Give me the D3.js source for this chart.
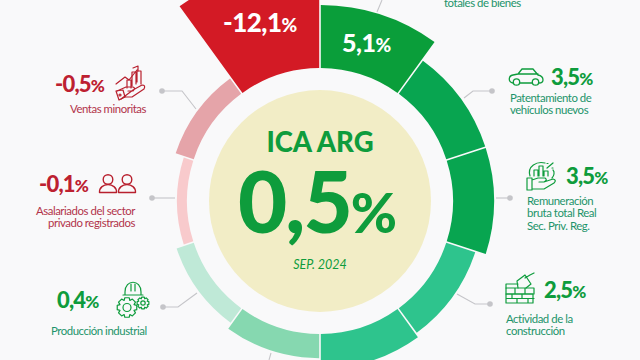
<!DOCTYPE html>
<html lang="en">
<head>
    <meta charset="UTF-8">
    <title>ICA ARG</title>
    <style>
        html, body {margin: 0; padding: 0; background: #f9f9fa; overflow: hidden;}
        svg {display: block; font-family: Lato, sans-serif;}
        .icon * {fill: none; stroke-linecap: round; stroke-linejoin: round;}
    </style>
</head>
<body>
    <div id="chart-container"></div>
    <script src="https://d3js.org/d3.v7.min.js"></script>
    <script>
        // clockwise from 12 o'clock
        const segmentNames = ["Consumo de bienes", "Patentamiento", "Remuneracion", "Construccion", "Seg 5", "Seg 6", "Industria", "Asalariados", "Ventas", "Seg 10"];
        const segmentValues = [5.1, 3.5, 3.5, 2.5, 2.9, 1.4, 0.4, -0.1, -0.5, -12.1];
        const segmentColors = ["#0a9e3a", "#08a550", "#08a550", "#2ec48d", "#2ec48d", "#86d8b0", "#bfe9d7", "#f8cacc", "#e5a4a9", "#d31a25"];
        const headline = {title: "ICA ARG", value: 0.5, date: "SEP. 2024"};

        const WIDTH = 640;
        const HEIGHT = 360;
        const CENTER = {X: 320, Y: 201};
        const INNER_R = 133;
        const DISC_R = 111;
        const GREEN = "#0e9c3c";
        const RED = "#bd2030";
        const TEAL = "#1d946a";
        const MAROON = "#b2344a";
        const LEADER = "#c5c5c9";

        // radius grows with |value| but the original is not linear
        const radius = d3.scaleLinear()
        .domain([0.1, 0.4, 0.5, 2.5, 3.5, 5.1, 12.1])
        .range([143, 151, 152, 163.5, 174, 196, 240]);

        const esAR = d3.formatLocale({decimal: ",", thousands: ".", grouping: [3], currency: ["$", ""], minus: "-"});
        const fmt = esAR.format(".1f");

        const svg = d3.select("#chart-container").append("svg")
        .attr("width", WIDTH)
        .attr("height", HEIGHT);

        svg.append("rect").attr("width", WIDTH).attr("height", HEIGHT).attr("fill", "#f9f9fa");

        // leaders go under the ring
        const leaders = [
            {dot: [162, 91], path: [[162, 91], [182, 91], [196, 109]]},
            {dot: [152, 198], path: [[152, 198], [175, 198]]},
            {dot: [163, 307], path: [[163, 307], [178, 307], [197, 293]]},
            {dot: [492, 91], path: [[492, 91], [473, 91], [464, 98]]},
            {dot: [510, 198], path: [[510, 198], [496, 198]]},
            {dot: [490, 304], path: [[490, 304], [475, 304], [457, 294]]},
            {path: [[377, 12], [382, 0]]},
            {path: [[269, 360], [271, 353]]},
            {path: [[372, 358], [373, 360]]}
        ];
        const line = d3.line();
        const gLeaders = svg.append("g");
        leaders.forEach(d => {
            gLeaders.append("path").attr("d", line(d.path)).attr("fill", "none").attr("stroke", LEADER).attr("stroke-width", 1.1);
            if (d.dot) gLeaders.append("circle").attr("cx", d.dot[0]).attr("cy", d.dot[1]).attr("r", 2.8).attr("fill", LEADER);
        });

        const pie = d3.pie().value(() => 1).sort(null);
        const arc = d3.arc()
        .innerRadius(INNER_R)
        .outerRadius(d => radius(Math.abs(d.data)))
        .padAngle(0.012)
        .padRadius(INNER_R);

        const g = svg.append("g")
        .attr("transform", `translate(${CENTER.X},${CENTER.Y})`);

        g.selectAll("path.segment")
        .data(pie(segmentValues))
        .enter().append("path")
        .attr("class", "segment")
        .attr("d", arc)
        .attr("fill", (d, i) => segmentColors[i]);

        g.append("circle").attr("r", DISC_R).attr("fill", "#f2edc6");

        // number followed by a smaller percent sign
        function pct(parent, value, x, y, size, color, pctSize, spacing) {
            const t = parent.append("text")
            .attr("x", x).attr("y", y)
            .attr("fill", color)
            .attr("font-weight", 900)
            .attr("font-size", size)
            .attr("letter-spacing", spacing || 0);
            t.append("tspan").text(fmt(value));
            t.append("tspan").attr("font-size", pctSize).text("%");
            return t;
        }
        function caption(lines, x, y, color, anchor) {
            svg.append("text")
            .attr("fill", color)
            .attr("font-size", 11.4)
            .attr("letter-spacing", -0.45)
            .attr("text-anchor", anchor || "start")
            .selectAll("tspan").data(lines).enter().append("tspan")
            .attr("x", x)
            .attr("y", (d, i) => y + i * 12.3)
            .text(d => d);
        }

        // centre
        svg.append("text").attr("x", 320).attr("y", 152)
        .attr("text-anchor", "middle").attr("fill", GREEN)
        .attr("font-weight", 900).attr("font-size", 27.5).text(headline.title);
        pct(svg, headline.value, 238, 233, 85, GREEN, 56, -2);
        svg.append("text").attr("x", 320).attr("y", 269)
        .attr("text-anchor", "middle").attr("fill", GREEN)
        .attr("font-style", "italic").attr("font-size", 12.5).text(headline.date);

        // values on the big wedges
        pct(svg, segmentValues[9], 223, 32, 26, "#fff", 19, -0.5);
        pct(svg, segmentValues[0], 342, 52, 25, "#fff", 19, -0.5);

        // outer labels
        pct(svg, segmentValues[8], 55, 92, 22, RED, 17, -0.8);
        caption(["Ventas minoritas"], 70, 113, MAROON);
        pct(svg, segmentValues[7], 39, 192, 22, RED, 17, -0.8);
        caption(["Asalariados del sector", "privado registrados"], 135, 215, MAROON, "end");
        pct(svg, segmentValues[6], 57, 308, 22, GREEN, 17, -0.8);
        caption(["Producción industrial"], 51, 335, TEAL);
        pct(svg, segmentValues[1], 551, 85, 22, GREEN, 17, -0.8);
        caption(["Patentamiento de", "vehículos nuevos"], 510, 102, TEAL);
        pct(svg, segmentValues[2], 566, 184, 22, GREEN, 17, -0.8);
        caption(["Remuneración", "bruta total Real", "Sec. Priv. Reg."], 527, 205, TEAL);
        pct(svg, segmentValues[3], 544, 298, 22, GREEN, 17, -0.8);
        caption(["Actividad de la", "construcción"], 506, 323, TEAL);
        caption(["totales de bienes"], 444, 7, TEAL);

        // outline icons
        function icon(color, width) {
            const ig = svg.append("g").attr("class", "icon");
            ig.style("stroke", color).style("stroke-width", width || 1.2);
            return ig;
        }
        function gearPath(cx, cy, r, teeth) {
            const pts = [];
            const step = Math.PI * 2 / teeth;
            for (let i = 0; i < teeth; i++) {
                const a = i * step;
                [[-0.5, r * 0.76], [-0.28, r], [0.28, r * 1], [0.5, r * 0.76]].forEach(p => {
                    pts.push([cx + p[1] * Math.cos(a + p[0] * step), cy + p[1] * Math.sin(a + p[0] * step)]);
                });
            }
            return line(pts) + "Z";
        }

        // hand with rising bars
        const i1 = icon("#b8202e");
        i1.append("path").attr("d", "M116,84 L125,77 L129,80 L137,70 M133,68 L138,66 L138,71");
        i1.append("path").attr("d", "M127,88 V80 H131 V88 M132,86 V72 H136 V84 M137,82 V71 H141 V84");
        i1.append("path").attr("d", "M117,91 L126,87 H133 Q136,88 133,91 H128 M133,90 L142,85 Q146,85 144,89 L132,97 L124,97 L121,99 Z");
        i1.append("path").attr("d", "M116,91 L123,90 L125,97 L119,100 Z");
        i1.append("circle").attr("cx", 120).attr("cy", 95).attr("r", 1);

        // two people
        const i2 = icon("#b8202e", 1.4);
        [108, 127].forEach(cx => {
            i2.append("circle").attr("cx", cx).attr("cy", 179.5).attr("r", 4.8);
            i2.append("path").attr("d", `M${cx - 8.5},192.5 C${cx - 9},182 ${cx + 9},182 ${cx + 8.5},192.5 Z`);
        });

        // helmet and gears
        const i3 = icon(GREEN, 1.2);
        i3.append("path").attr("d", "M123,295 H143 M125,295 V292 C125,279 141,279 141,292 V295 M131,284 V291 M135,284 V291");
        i3.append("path").attr("d", gearPath(127, 307.5, 10, 8));
        i3.append("circle").attr("cx", 127).attr("cy", 307.5).attr("r", 4);
        i3.append("path").attr("d", gearPath(143, 303, 6, 8));
        i3.append("circle").attr("cx", 143).attr("cy", 303).attr("r", 2.2);

        // car
        const i4 = icon(GREEN, 1.3);
        i4.append("circle").attr("cx", 516.5).attr("cy", 82).attr("r", 3.2);
        i4.append("circle").attr("cx", 535.5).attr("cy", 82).attr("r", 3.2);
        i4.append("path").attr("d", "M513,83 C508,82 508,76 513,75 L518,74 L522,69 H533 L538,75 Q543,76 543,80 Q543,83 539,83 M520,83 H532 M518,74 H538");

        // hand with bars and percent
        const i5 = icon(GREEN, 1.2);
        i5.append("path").attr("d", "M527,178 H532 V190 H527 Z M532,180 L538,178 H545 Q548,180 544,182 H539 M544,182 L553,179 Q557,180 554,183 L544,189 H532");
        i5.append("path").attr("d", "M534,176 V170 H538 V176 M539,176 V166 H543 V176 M544,176 V171 H548 V176");
        i5.append("path").attr("d", "M530,176 C527,166 537,161 545,163 M553,170 C555,172 554,176 552,178");
        i5.append("path").attr("d", "M547,168 L553,163 M547,163.5 h1 M552,168 h1");

        // bricks and trowel
        const i6 = icon(GREEN, 1.2);
        i6.append("path").attr("d", "M506,288 H534 V294 H506 Z M515,288 V294 M525,288 V294");
        i6.append("path").attr("d", "M506,288 V284 H518 M507,294 H533 V303 H506 V294 M512,294 V298 M522,294 V298 M506,298.5 H534 M517,298.5 V303 M528,298.5 V303");
        i6.append("path").attr("d", "M518,288 L517,281 L525,275 L531,284 L526,288 M525,278 L530,275 L534,273");
    </script>
</body>
</html>
